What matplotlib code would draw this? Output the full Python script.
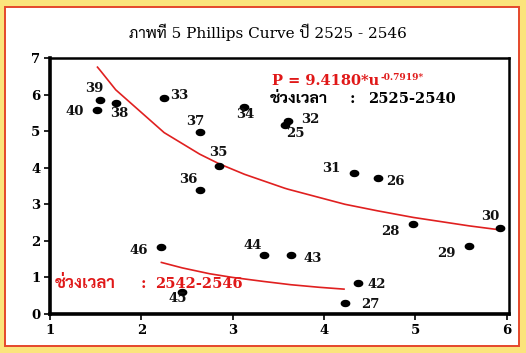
import matplotlib
matplotlib.use("Agg")
import matplotlib.pyplot as plt
from matplotlib import font_manager
from matplotlib.ft2font import FT2Font
from matplotlib.path import Path
from matplotlib.patches import Rectangle
import numpy as np

# ---------------- data ----------------
labels = ["25", "26", "27", "28", "29", "30", "31", "32", "33", "34", "35", "36",
          "37", "38", "39", "40", "42", "43", "44", "45", "46"]
unemp = [3.57, 4.59, 4.23, 4.98, 5.59, 5.93, 4.33, 3.61, 2.25, 3.13, 2.85, 2.64,
         2.64, 1.72, 1.55, 1.52, 4.37, 3.64, 3.34, 2.45, 2.22]
infl = [5.17, 3.73, 0.31, 2.45, 1.87, 2.36, 3.86, 5.27, 5.91, 5.65, 4.06, 3.38,
        4.99, 5.77, 5.86, 5.58, 0.85, 1.60, 1.60, 0.61, 1.82]
# label offsets in pixels (dx, dy up)
lab_dx = [11, 18, 25, -23, -23, -10, -23, 22, 15, 1, -1, -11, -4, 4, -6, -23, 19, 22, -11, -5, -23]
lab_dy = [-9, -4, -2, -7, -8, 11, 4, 2, 2, -7, 13, 11, 10, -11, 11, -2, -2, -3, 10, -7, -3]

# fitted curve 2525-2540
fit1_x = [1.52, 1.55, 1.72, 2.25, 2.64, 2.85, 3.13, 3.57, 3.61, 4.23, 4.33, 4.59, 4.98, 5.59, 5.93]
fit1_y = [6.75, 6.66, 6.13, 4.96, 4.37, 4.11, 3.82, 3.44, 3.41, 3.00, 2.95, 2.82, 2.64, 2.41, 2.30]
# fitted curve 2542-2546
fit2_x = [2.22, 2.45, 2.75, 3.00, 3.34, 3.64, 3.95, 4.22]
fit2_y = [1.41, 1.26, 1.10, 1.00, 0.89, 0.80, 0.73, 0.68]

xticks = [1, 2, 3, 4, 5, 6]
yticks = [0, 1, 2, 3, 4, 5, 6, 7]

title = "ภาพที่ 5 Phillips Curve ปี 2525 - 2546"
eq_main = "P = 9.4180*u"
eq_sup = "-0.7919*"
period_word = "ช่วงเวลา"
period1_years = "2525-2540"
period2_years = "2542-2546"

# ---------------- fonts ----------------
def find_thai():
    pref = ["Sarabun", "TH Sarabun New", "Noto Serif Thai", "Noto Sans Thai", "Loma",
            "Garuda", "Norasi", "Kinnari", "Tlwg Typo", "Umpush", "Waree", "Laksaman"]
    found = []
    for f in font_manager.fontManager.ttflist:
        try:
            cm = FT2Font(f.fname).get_charmap()
        except Exception:
            continue
        if 0x0E20 in cm and 0x0E48 in cm:
            found.append(f.name)
    for p in pref:
        if p in found:
            return p
    return found[0] if found else None

thai = find_thai()
thai_list = [thai] if thai else []
title_fam = ["DejaVu Serif"] + thai_list
bold_fam = ["DejaVu Serif"] + thai_list
thai_fam = thai_list + ["DejaVu Serif"]

W, H, DPI = 526, 353, 100
fig = plt.figure(figsize=(W / DPI, H / DPI), dpi=DPI)
fig.patch.set_facecolor("#FBE47C")
bg = Rectangle((5 / W, 7 / H), 514 / W, 339 / H, transform=fig.transFigure,
               facecolor="white", edgecolor="#E5472B", linewidth=1.4, zorder=-5)
fig.patches.append(bg)

ax = fig.add_axes([50 / W, 1 - 314 / H, 459 / W, 256 / H], zorder=2)
ax.set_facecolor("white")
ax.set_xlim(1, 6.027)
ax.set_ylim(0, 7)

ax.set_xticks(xticks)
ax.set_yticks(yticks)
ax.set_xticklabels([str(t) for t in xticks], fontfamily=bold_fam, fontweight="bold", fontsize=9.5)
ax.set_yticklabels([str(t) for t in yticks], fontfamily=bold_fam, fontweight="bold", fontsize=9.5)
ax.tick_params(axis="both", direction="out", length=4, width=1.2, color="black", pad=3)
for s in ["left", "bottom"]:
    ax.spines[s].set_linewidth(2.6)
for s in ["top", "right"]:
    ax.spines[s].set_linewidth(1.8)

# ellipse marker
t = np.linspace(0, 2 * np.pi, 40)
ell = Path(np.column_stack([np.cos(t), 0.72 * np.sin(t)]), closed=True)

ax.plot(fit1_x, fit1_y, color="#E02020", lw=1.2, zorder=2)
ax.plot(fit2_x, fit2_y, color="#E02020", lw=1.2, zorder=2)
ax.plot(unemp, infl, linestyle="none", marker=ell, markersize=6, color="black", zorder=3)

for lab, x, y, dx, dy in zip(labels, unemp, infl, lab_dx, lab_dy):
    ax.annotate(lab, (x, y), xytext=(dx * 0.72, dy * 0.72), textcoords="offset points",
                ha="center", va="center", fontsize=9.5, fontweight="bold",
                fontfamily=bold_fam, color="#111111", zorder=4)

# title
fig.text(268 / W, 1 - 32 / H, title, ha="center", va="center", fontsize=11,
         fontfamily=title_fam, color="black", zorder=5)

# equation
red = "#E01818"
tm = fig.text(272 / W, 1 - 81 / H, eq_main, ha="left", va="center", fontsize=10.5,
              fontweight="bold", fontfamily=bold_fam, color=red, zorder=5)
fig.add_artist(matplotlib.text.Annotation(
    eq_sup, xy=(1.0, 0.75), xycoords=tm, xytext=(1, 0), textcoords="offset points",
    ha="left", va="center", fontsize=6.5, fontweight="bold",
    fontfamily=bold_fam, color=red, zorder=5))

# period annotations
def period(x_word, x_colon, x_years, y_base, years, color, wsize):
    fig.text(x_word / W, 1 - y_base / H, period_word, ha="left", va="baseline", fontsize=wsize,
             fontweight="bold", fontfamily=thai_fam, color=color, zorder=5)
    fig.text(x_colon / W, 1 - y_base / H, ":", ha="center", va="baseline", fontsize=10.5,
             fontweight="bold", fontfamily=bold_fam, color=color, zorder=5)
    fig.text(x_years / W, 1 - y_base / H, years, ha="left", va="baseline", fontsize=10.5,
             fontweight="bold", fontfamily=bold_fam, color=color, zorder=5)

period(270, 352, 368, 103, period1_years, "black", 11.5)
period(55, 143, 155, 288, period2_years, red, 12)

fig.savefig("out.png", dpi=DPI, facecolor=fig.get_facecolor())
